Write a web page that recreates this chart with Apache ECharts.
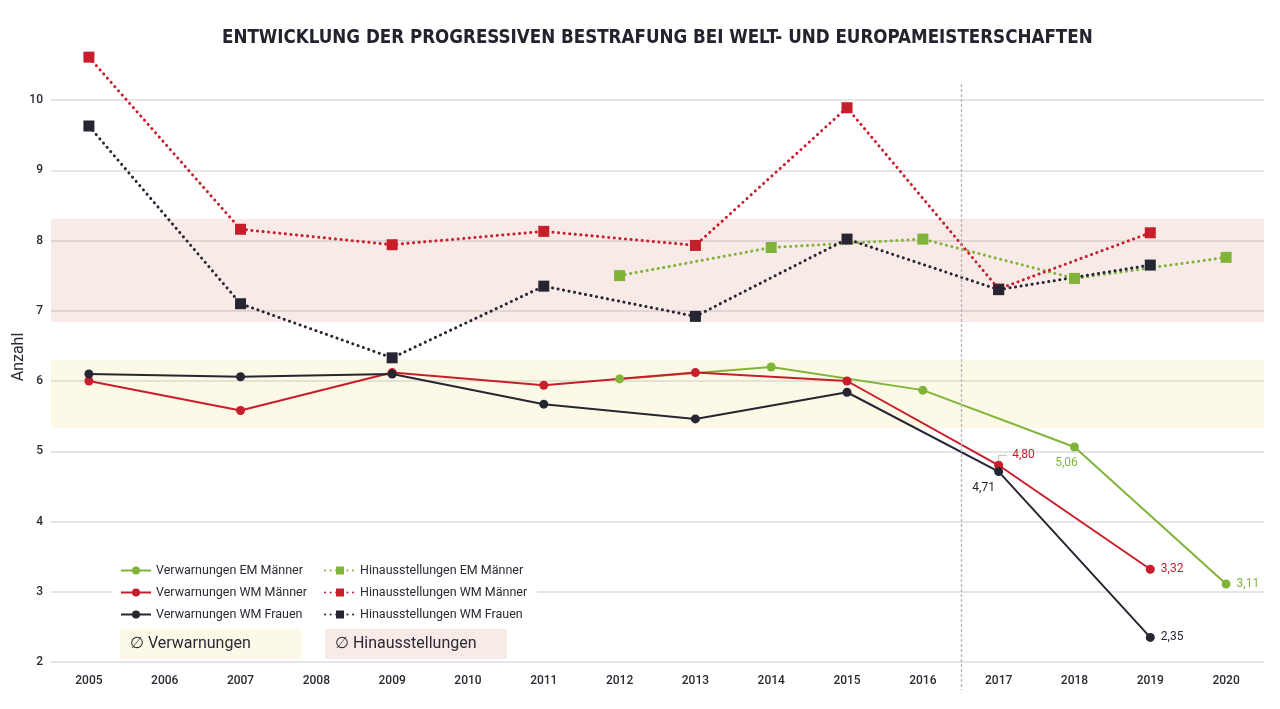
<!DOCTYPE html>
<html>
<head>
<meta charset="utf-8">
<script src="https://cdn.jsdelivr.net/npm/echarts@6/dist/echarts.min.js"></script>
<style>
  html, body { margin: 0; padding: 0; background: #fff; }
  #chart { width: 1280px; height: 709px; }
</style>
</head>
<body>
<div id="chart"></div>
<script>
// Jahre (Kategorien der x-Achse)
const years = ['2005','2006','2007','2008','2009','2010','2011','2012','2013','2014','2015','2016','2017','2018','2019','2020'];

// Verwarnungen (durchgezogen)
const verwEmMaenner  = [null, null, null, null, null, null, null, 6.03, null, 6.20, null, 5.87, null, 5.06, null, 3.11];
const verwWmMaenner  = [6.00, null, 5.58, null, 6.12, null, 5.94, null, 6.12, null, 6.00, null, 4.80, null, 3.32, null];
const verwWmFrauen   = [6.10, null, 6.06, null, 6.10, null, 5.67, null, 5.46, null, 5.84, null, 4.71, null, 2.35, null];

// Hinausstellungen (gepunktet)
const hinEmMaenner   = [null, null, null, null, null, null, null, 7.50, null, 7.90, null, 8.02, null, 7.46, null, 7.76];
const hinWmMaenner   = [10.61, null, 8.16, null, 7.94, null, 8.13, null, 7.93, null, 9.89, null, 7.31, null, 8.11, null];
const hinWmFrauen    = [9.63, null, 7.10, null, 6.33, null, 7.35, null, 6.92, null, 8.02, null, 7.30, null, 7.65, null];

// Durchschnittsbereiche
const bandVerwarnungen = [5.33, 6.30];
const bandHinaus       = [6.84, 8.31];

const yTicks = [2, 3, 4, 5, 6, 7, 8, 9, 10];

const GREEN = '#7fb439';
const RED = '#c81e2c';
const DARK = '#262633';
const FONT = 'Roboto, "DejaVu Sans", sans-serif';

function fmt(v) { return v.toFixed(2).replace('.', ','); }

// Label nur an bestimmten Punkten
function withLabels(arr, color, spots) {
  return arr.map(function (v, i) {
    if (v == null || !spots[i]) return v;
    return {
      value: v,
      label: Object.assign({
        show: true, color: color, fontSize: 12, fontFamily: FONT,
        formatter: function (p) { return fmt(p.value); }
      }, spots[i])
    };
  });
}

function solid(name, color, data) {
  return {
    name: name, type: 'line', data: data, connectNulls: true, clip: false,
    symbol: 'circle', symbolSize: 9,
    itemStyle: { color: color },
    lineStyle: { color: color, width: 2 },
    z: 4
  };
}

function dotted(name, color, data) {
  return {
    name: name, type: 'line', data: data, connectNulls: true, clip: false,
    symbol: 'rect', symbolSize: 11,
    itemStyle: { color: color },
    lineStyle: { color: color, width: 3, type: [0.1, 5.5], cap: 'round' },
    z: 3
  };
}

const chart = echarts.init(document.getElementById('chart'));

const legendText = { fontSize: 12.5, color: '#2a2a35', fontFamily: FONT };

chart.setOption({
  animation: false,
  title: {
    text: 'ENTWICKLUNG DER PROGRESSIVEN BESTRAFUNG BEI WELT- UND EUROPAMEISTERSCHAFTEN',
    left: 217,
    top: 24,
    textStyle: {
      fontFamily: '"Liberation Sans Narrow", "DejaVu Sans Condensed", Roboto, sans-serif',
      fontWeight: 'bold', fontSize: 18.6, color: '#23232e'
    }
  },
  grid: { left: 51, right: 16, top: 100, bottom: 47, outerBoundsMode: 'none' },
  legend: [
    {
      orient: 'vertical', left: 112, top: 560,
      backgroundColor: '#fff', padding: [4, 8, 4, 8],
      itemWidth: 30, itemHeight: 10, itemGap: 9,
      textStyle: legendText,
      data: ['Verwarnungen EM Männer', 'Verwarnungen WM Männer', 'Verwarnungen WM Frauen']
    },
    {
      orient: 'vertical', left: 316, top: 560,
      backgroundColor: '#fff', padding: [4, 10, 4, 8],
      itemWidth: 30, itemHeight: 10, itemGap: 9,
      textStyle: legendText,
      data: ['Hinausstellungen EM Männer', 'Hinausstellungen WM Männer', 'Hinausstellungen WM Frauen']
    }
  ],
  xAxis: {
    type: 'category',
    data: years,
    boundaryGap: true,
    axisLine: { show: false },
    axisTick: { show: false },
    axisLabel: { margin: 13, fontSize: 12, fontWeight: 500, color: '#2a2a35', fontFamily: FONT, interval: 0 }
  },
  yAxis: {
    type: 'value',
    min: yTicks[0], max: yTicks[yTicks.length - 1], interval: 1,
    name: 'Anzahl', nameLocation: 'middle', nameGap: 24, nameRotate: 90,
    nameMoveOverlap: false,
    nameTextStyle: { fontSize: 16, color: '#2a2a35', fontFamily: FONT, padding: [0, 0, 0, 48] },
    axisLine: { show: false },
    axisTick: { show: false },
    axisLabel: { margin: 8, fontSize: 12, fontWeight: 500, color: '#2a2a35', fontFamily: FONT },
    splitLine: { lineStyle: { color: '#dcdce2', width: 1.5 } }
  },
  series: [
    {
      name: 'Bänder', type: 'line', data: [], silent: true, z: 1,
      markArea: {
        silent: true,
        data: [
          [{ yAxis: bandHinaus[0], itemStyle: { color: 'rgba(196,80,60,0.12)' } }, { yAxis: bandHinaus[1] }],
          [{ yAxis: bandVerwarnungen[0], itemStyle: { color: 'rgba(235,200,40,0.11)' } }, { yAxis: bandVerwarnungen[1] }]
        ]
      }
    },
    dotted('Hinausstellungen EM Männer', GREEN, hinEmMaenner),
    dotted('Hinausstellungen WM Männer', RED, hinWmMaenner),
    dotted('Hinausstellungen WM Frauen', DARK, hinWmFrauen),
    solid('Verwarnungen EM Männer', GREEN, withLabels(verwEmMaenner, GREEN, {
      13: { position: 'bottom', offset: [-8, 0] },
      15: { position: 'right', distance: 6 }
    })),
    solid('Verwarnungen WM Männer', RED, withLabels(verwWmMaenner, RED, {
      12: { position: 'right', offset: [4, -10] },
      14: { position: 'right', distance: 6 }
    })),
    solid('Verwarnungen WM Frauen', DARK, withLabels(verwWmFrauen, DARK, {
      12: { position: 'bottom', offset: [-15, 1] },
      14: { position: 'right', distance: 6 }
    }))
  ]
});

// Trennlinie zwischen 2016 und 2017, Hinweislinie und Legendenkästen
const x16 = chart.convertToPixel({ xAxisIndex: 0 }, '2016');
const x17 = chart.convertToPixel({ xAxisIndex: 0 }, '2017');
const xSep = Math.round((x16 + x17) / 2) + 0.5;
const p480 = chart.convertToPixel({ seriesIndex: 5 }, ['2017', verwWmMaenner[12]]);
chart.setOption({
  graphic: [
    {
      type: 'line', z: 5, silent: true,
      shape: { x1: xSep, y1: 84, x2: xSep, y2: 690 },
      style: { stroke: '#b5b5b8', lineWidth: 1.3, lineDash: [3, 2] }
    },
    {
      type: 'polyline', z: 5, silent: true,
      shape: { points: [[p480[0], p480[1] - 4], [p480[0], p480[1] - 10], [p480[0] + 8, p480[1] - 10]] },
      style: { stroke: '#bdbdc2', lineWidth: 1, fill: null }
    },
    {
      type: 'group', left: 120, top: 629, z: 10,
      children: [
        { type: 'rect', shape: { x: 0, y: 0, width: 182, height: 30 }, style: { fill: '#fdf9e8' } },
        { type: 'text', x: 10, y: 15, style: { text: '∅ Verwarnungen', fontSize: 16, fontFamily: FONT, fill: '#2a2a35', verticalAlign: 'middle' } }
      ]
    },
    {
      type: 'group', left: 325, top: 629, z: 10,
      children: [
        { type: 'rect', shape: { x: 0, y: 0, width: 182, height: 30 }, style: { fill: '#f8ebe7' } },
        { type: 'text', x: 10, y: 15, style: { text: '∅ Hinausstellungen', fontSize: 16, fontFamily: FONT, fill: '#2a2a35', verticalAlign: 'middle' } }
      ]
    }
  ]
});
</script>
</body>
</html>
